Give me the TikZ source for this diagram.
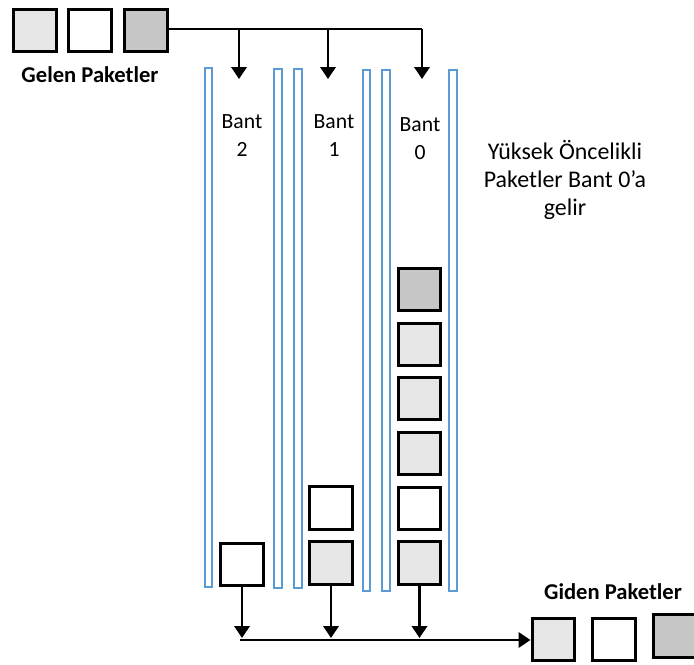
\documentclass[tikz,border=0pt]{standalone}
\usepackage{fontspec}
\setmainfont{Carlito}
\usetikzlibrary{arrows.meta,positioning}
\definecolor{lightpkt}{HTML}{E6E6E6}
\definecolor{darkpkt}{HTML}{C6C6C6}
\definecolor{bandblue}{HTML}{5B9BD5}

\begin{document}
\begin{tikzpicture}[
  x=0.03cm,y=-0.03cm,
  font=\fontsize{18.5}{23.9}\selectfont,
  pkt/.style={draw=black,line width=2.8pt,minimum width=1.28cm,
    minimum height=1.28cm,inner sep=0pt},
  bar/.style={draw=bandblue,line width=2pt},
  wire/.style={draw=black,line width=2.2pt},
  flow/.style={wire,-{Triangle[length=3.6mm,width=4.6mm]}},
  label/.style={align=center,inner sep=1pt},
  title/.style={font=\fontsize{19.3}{24}\selectfont\bfseries,inner sep=1pt}]
\useasboundingbox (0,0) rectangle (694,664);

% incoming packets
\node[pkt,fill=lightpkt] (in1) at (35,30.5) {};
\node[pkt,fill=white] (in2) at (90,30.5) {};
\node[pkt,fill=darkpkt] (in3) at (146,30.5) {};
\node[title] (gelen) at (90,75) {Gelen Paketler};

% band tubes
\draw[bar] (205,68) rectangle (212,587);
\draw[bar] (274,69) rectangle (282,588);
\draw[bar] (294,69) rectangle (302,588);
\draw[bar] (363,70) rectangle (370,591);
\draw[bar] (382,70) rectangle (390,591);
\draw[bar] (449,70) rectangle (457,591);

\node[label] (bant2) at (242,136) {Bant\\2};
\node[label] (bant1) at (334,136) {Bant\\1};
\node[label] (bant0) at (420,139) {Bant\\0};
\node[label,font=\fontsize{20.4}{23.9}\selectfont] (note) at (565,180)
  {Yüksek Öncelikli\\Paketler Bant 0’a\\gelir};

% queued packets
\node[pkt,fill=white] (q2a) at (242,564.5) {};
\node[pkt,fill=lightpkt] (q1a) at (331,563) {};
\node[pkt,fill=white] (q1b) at (331,508) {};
\node[pkt,fill=lightpkt] (q0a) at (419.5,563) {};
\node[pkt,fill=white] (q0b) at (419.5,508.5) {};
\node[pkt,fill=lightpkt] (q0c) at (419.5,453.5) {};
\node[pkt,fill=lightpkt] (q0d) at (419.5,398.5) {};
\node[pkt,fill=lightpkt] (q0e) at (419.5,344.5) {};
\node[pkt,fill=darkpkt] (q0f) at (419.5,289.5) {};

% incoming split
\coordinate (drop2) at (239,29);
\coordinate (drop1) at (328,29);
\coordinate (drop0) at (422,29);
\coordinate (bandtop) at (0,79);
\draw[wire] (in3.east |- drop0)--(drop0);
\draw[flow] (drop2)--(drop2 |- bandtop);
\draw[flow] (drop1)--(drop1 |- bandtop);
\draw[flow] (drop0)--(drop0 |- bandtop);

% outgoing packets
\node[pkt,fill=lightpkt] (out1) at (553.5,639.5) {};
\node[pkt,fill=white] (out2) at (614,639.5) {};
\node[pkt,fill=darkpkt] (out3) at (675,636) {};
\node[title] (giden) at (613,592) {Giden Paketler};

\coordinate (merge) at (240,640);
\coordinate (mergetip) at (0,638);
\draw[flow] (q2a.south)--(q2a.south |- mergetip);
\draw[flow] (q1a.south)--(q1a.south |- mergetip);
\draw[flow] (q0a.south)--(q0a.south |- mergetip);
\draw[flow] (merge)--(out1.west |- merge);
\end{tikzpicture}
\end{document}
